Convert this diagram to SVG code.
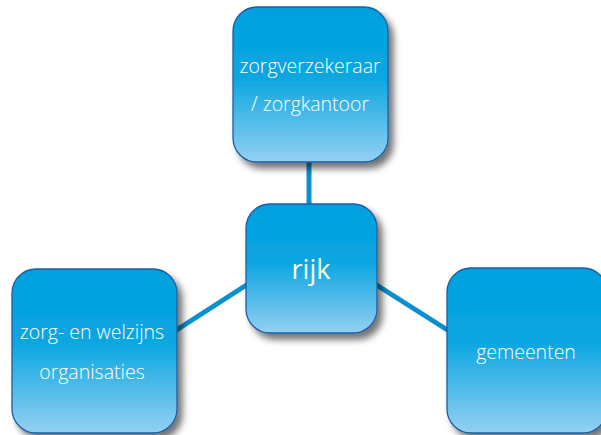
<svg xmlns="http://www.w3.org/2000/svg" width="601" height="435" viewBox="0 0 601 435">
<defs>
<linearGradient id="g" x1="0" y1="0" x2="0" y2="1">
<stop offset="0" stop-color="#00a0de"/>
<stop offset="0.45" stop-color="#0aa6e1"/>
<stop offset="1" stop-color="#94d0f2"/>
</linearGradient>
<filter id="sh" x="-20%" y="-20%" width="150%" height="150%">
<feGaussianBlur in="SourceAlpha" stdDeviation="3.5"/>
<feOffset dx="5" dy="6" result="b"/>
<feComponentTransfer><feFuncA type="linear" slope="0.55"/></feComponentTransfer>
<feMerge><feMergeNode/><feMergeNode in="SourceGraphic"/></feMerge>
</filter>
</defs>
<style>
.box{fill:url(#g);stroke:#1f5da3;stroke-width:1.3;filter:url(#sh)}
.t{fill:#ffffff;font-family:"Open Sans","Liberation Sans",sans-serif;font-weight:300;font-size:19.5px;text-anchor:middle}
.c{stroke:#0a8fcf;stroke-width:5;fill:none}
</style>
<rect width="601" height="435" fill="#ffffff"/>
<g id="connectors">
<line class="c" x1="309" y1="160" x2="309" y2="206"/>
<line class="c" x1="175" y1="331" x2="248" y2="284"/>
<line class="c" x1="375" y1="284" x2="449" y2="331"/>
</g>
<g id="zorgverzekeraar">
<rect class="box" x="233" y="7" width="155" height="155" rx="24"/>
<text class="t" x="310" y="73">zorgverzekeraar</text>
<text class="t" x="310" y="111">/ zorgkantoor</text>
</g>
<g id="rijk">
<rect class="box" x="246" y="204" width="131" height="129" rx="24"/>
<text class="t" x="311" y="279" style="font-size:27px;font-weight:400">rijk</text>
</g>
<g id="organisaties">
<rect class="box" x="12" y="269" width="165" height="164" rx="24"/>
<text class="t" x="92" y="339">zorg- en welzijns</text>
<text class="t" x="92" y="379">organisaties</text>
</g>
<g id="gemeenten">
<rect class="box" x="447" y="268" width="160" height="165" rx="24"/>
<text class="t" x="526" y="359">gemeenten</text>
</g>
</svg>
